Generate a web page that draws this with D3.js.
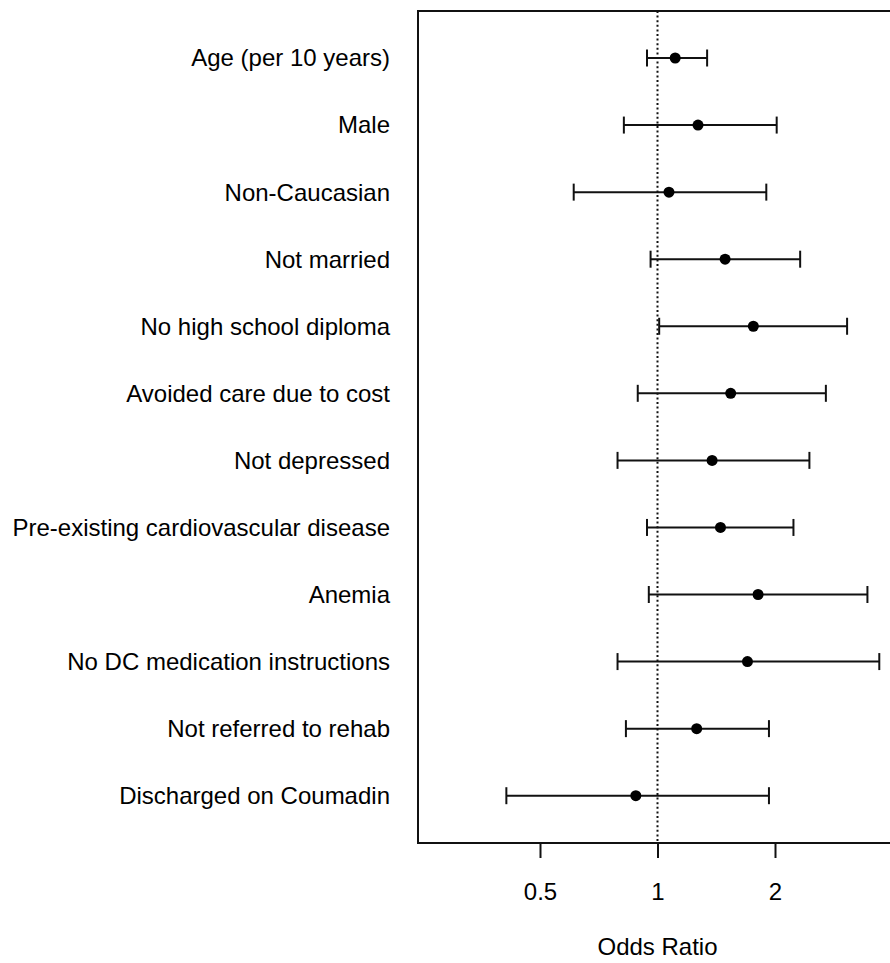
<!DOCTYPE html>
<html>
<head>
<meta charset="utf-8">
<script src="https://cdn.jsdelivr.net/npm/d3@7"></script>
<style>
  html, body { margin: 0; padding: 0; background: #fff; }
  svg { display: block; }
  text { font-family: "Liberation Sans", Arial, sans-serif; fill: #000; }
</style>
</head>
<body>
<svg id="chart" width="890" height="963"></svg>
<script>
const categories = [
  "Age (per 10 years)",
  "Male",
  "Non-Caucasian",
  "Not married",
  "No high school diploma",
  "Avoided care due to cost",
  "Not depressed",
  "Pre-existing cardiovascular disease",
  "Anemia",
  "No DC medication instructions",
  "Not referred to rehab",
  "Discharged on Coumadin"
];
const oddsRatio = [1.11, 1.27, 1.07, 1.49, 1.76, 1.54, 1.38, 1.45, 1.81, 1.70, 1.26, 0.88];
const lowerCI   = [0.94, 0.82, 0.61, 0.96, 1.01, 0.89, 0.79, 0.94, 0.95, 0.79, 0.83, 0.41];
const upperCI   = [1.34, 2.02, 1.90, 2.32, 3.06, 2.70, 2.45, 2.23, 3.45, 3.70, 1.93, 1.93];
const xTicks = [0.5, 1, 2];
const xTickLabels = ["0.5", "1", "2"];
const refValue = 1;

const svg = d3.select("#chart");
const box = { left: 418, top: 11, right: 898, bottom: 843 };

const x = d3.scaleLog().domain([0.5, 2]).range([540, 775]);
const y = d3.scalePoint().domain(categories).range([58, 795.7]);

const data = categories.map((c, i) => ({ c, or: oddsRatio[i], lo: lowerCI[i], hi: upperCI[i] }));

// reference line
svg.append("line")
  .attr("x1", x(refValue)).attr("x2", x(refValue))
  .attr("y1", box.top).attr("y2", box.bottom)
  .attr("stroke", "#111").attr("stroke-width", 2)
  .attr("stroke-dasharray", "2,2.6");

// error bars
const g = svg.append("g");
const rows = g.selectAll("g.row").data(data).join("g").attr("class", "row");
rows.append("line")
  .attr("x1", d => x(d.lo)).attr("x2", d => x(d.hi))
  .attr("y1", d => y(d.c)).attr("y2", d => y(d.c))
  .attr("stroke", "#111").attr("stroke-width", 2);
rows.append("line")
  .attr("x1", d => x(d.lo)).attr("x2", d => x(d.lo))
  .attr("y1", d => y(d.c) - 8.5).attr("y2", d => y(d.c) + 8.5)
  .attr("stroke", "#111").attr("stroke-width", 2);
rows.append("line")
  .attr("x1", d => x(d.hi)).attr("x2", d => x(d.hi))
  .attr("y1", d => y(d.c) - 8.5).attr("y2", d => y(d.c) + 8.5)
  .attr("stroke", "#111").attr("stroke-width", 2);
rows.append("circle")
  .attr("cx", d => x(d.or)).attr("cy", d => y(d.c))
  .attr("r", 5.5).attr("fill", "#000");

// box
svg.append("rect")
  .attr("x", box.left).attr("y", box.top)
  .attr("width", box.right - box.left).attr("height", box.bottom - box.top)
  .attr("fill", "none").attr("stroke", "#111").attr("stroke-width", 2);

// category labels
svg.append("g").selectAll("text").data(categories).join("text")
  .attr("x", 390).attr("y", d => y(d))
  .attr("dy", "0.35em")
  .attr("text-anchor", "end")
  .attr("font-size", 24)
  .text(d => d);

// x axis
const xAxis = d3.axisBottom(x)
  .tickValues(xTicks)
  .tickFormat((d, i) => xTickLabels[i])
  .tickSize(15)
  .tickPadding(25)
  .tickSizeOuter(0);
const ax = svg.append("g").attr("transform", `translate(0,${box.bottom})`).call(xAxis);
ax.select(".domain").remove();
ax.selectAll(".tick line").attr("stroke", "#111").attr("stroke-width", 2);
ax.selectAll(".tick text")
  .attr("font-size", 24)
  .attr("font-family", "'Liberation Sans', Arial, sans-serif")
  .attr("fill", "#000");

svg.append("text")
  .attr("x", x(refValue)).attr("y", 955)
  .attr("text-anchor", "middle")
  .attr("font-size", 24)
  .text("Odds Ratio");
</script>
</body>
</html>
